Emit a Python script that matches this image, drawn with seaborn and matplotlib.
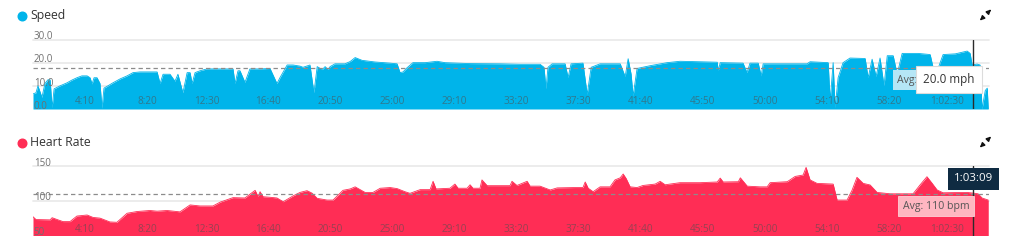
import numpy as np
import pandas as pd
import matplotlib
matplotlib.use("Agg")
import matplotlib.pyplot as plt
import seaborn as sns
from matplotlib.lines import Line2D
from matplotlib.patches import FancyArrowPatch

# ---------------- data ----------------
speed_t = [0, 12, 20, 36, 48, 60, 69, 77, 85, 109, 137, 157, 177, 197, 218, 230, 238, 246, 258, 270,
           278, 286, 302, 322, 351, 379, 403, 431, 471, 500, 512, 524, 552, 572, 584, 604, 621, 633,
           641, 653, 673, 701, 754, 806, 814, 826, 834, 854, 874, 915, 955, 983, 995, 1024, 1048,
           1076, 1088, 1116, 1132, 1145, 1165, 1177, 1189, 1197, 1217, 1257, 1278, 1298, 1326, 1378,
           1439, 1467, 1479, 1491, 1507, 1531, 1580, 1628, 1660, 1761, 1882, 1963, 2043, 2059, 2067,
           2075, 2092, 2144, 2156, 2168, 2216, 2233, 2249, 2285, 2366, 2386, 2398, 2410, 2418, 2434,
           2487, 2555, 2607, 2688, 2757, 2761, 2769, 2861, 2877, 2889, 2922, 2934, 2942, 3051, 3119,
           3131, 3204, 3212, 3224, 3232, 3244, 3264, 3292, 3353, 3365, 3381, 3397, 3413, 3429, 3442,
           3466, 3482, 3502, 3566, 3615, 3635, 3667, 3716, 3764, 3776, 3784, 3804, 3816, 3824, 3837,
           3845, 3849]
speed_v = [6.5, 7.0, 10.0, 5.0, 11.0, 12.6, 12.6, 0.5, 8.7, 10.0, 11.3, 12.5, 13.5, 14.3, 14.3, 13.5,
           10.8, 13.5, 13.5, 11.0, 0.3, 9.0, 10.0, 11.3, 13.0, 14.3, 15.7, 16.0, 16.0, 16.0, 11.0,
           15.0, 15.0, 12.0, 15.0, 7.0, 15.7, 15.7, 11.0, 15.7, 16.5, 17.3, 17.3, 17.3, 11.0, 16.5,
           16.5, 11.5, 17.3, 17.3, 17.5, 11.0, 13.5, 19.0, 19.0, 18.5, 18.0, 19.0, 7.0, 18.3, 17.0,
           18.3, 17.0, 18.3, 19.5, 19.5, 20.5, 22.2, 21.0, 20.3, 19.8, 19.5, 15.7, 16.0, 17.8, 20.0,
           20.0, 20.6, 20.0, 19.6, 19.5, 19.3, 19.3, 18.0, 8.7, 18.0, 19.5, 19.5, 13.6, 19.5, 19.8,
           6.3, 18.0, 19.5, 19.5, 14.0, 21.7, 15.0, 5.6, 17.5, 18.7, 20.0, 20.6, 20.4, 20.2, 16.5,
           20.0, 19.8, 15.7, 19.8, 19.8, 14.3, 19.5, 19.5, 19.5, 20.4, 20.0, 3.5, 20.0, 0.5, 13.5,
           20.0, 22.0, 21.8, 13.5, 21.5, 14.0, 22.0, 10.0, 23.0, 23.0, 15.0, 24.0, 24.0, 23.5, 14.0,
           23.5, 23.8, 25.0, 24.0, 19.0, 19.4, 19.0, 0.0, 8.0, 9.0, 0.0]

hr_t = [0, 12, 69, 77, 97, 121, 149, 177, 218, 242, 270, 310, 338, 379, 419, 471, 500, 540, 592, 633,
        673, 725, 754, 806, 854, 895, 907, 915, 927, 955, 983, 1008, 1048, 1076, 1104, 1124, 1145,
        1185, 1209, 1249, 1278, 1298, 1318, 1338, 1370, 1399, 1439, 1467, 1499, 1519, 1560, 1600,
        1612, 1624, 1680, 1700, 1713, 1749, 1761, 1773, 1801, 1809, 1830, 1922, 1930, 1950, 1991,
        2003, 2043, 2084, 2112, 2184, 2216, 2225, 2237, 2257, 2285, 2325, 2345, 2366, 2378, 2390,
        2406, 2434, 2458, 2507, 2527, 2547, 2607, 2688, 2757, 2769, 2781, 2842, 2850, 2878, 2930,
        2958, 2970, 3039, 3071, 3103, 3115, 3131, 3159, 3224, 3240, 3280, 3300, 3320, 3345, 3373,
        3401, 3454, 3546, 3574, 3602, 3623, 3643, 3667, 3764, 3788, 3808, 3824, 3849]
hr_v = [77, 73, 72.5, 75.6, 73, 70, 70, 78, 79.5, 76, 75, 69.5, 69, 82, 84.5, 86, 85, 86, 84, 94,
        92.5, 92.5, 98, 104.5, 104, 115, 106, 113, 105.8, 105, 104, 98.6, 107, 112, 114.5, 111,
        103.5, 101, 101, 115, 117, 120, 116, 112, 112, 118, 119, 117.5, 113, 110.7, 116, 116, 128,
        117, 118, 124, 118, 118, 123, 118, 118, 130, 121.7, 121.7, 128, 122, 128, 121, 121, 115.5,
        118.5, 119, 119, 127, 118, 113, 120, 120, 130, 133, 138.5, 132, 120, 119, 122, 124, 128,
        123, 126, 126, 127, 132.6, 127, 127.4, 133, 121, 120, 120, 126, 127.4, 135, 137, 148, 130,
        125, 124, 101, 101, 115, 133.7, 125, 122.7, 112, 110, 110, 122.7, 134.6, 125, 115.5, 111.5,
        112, 111, 110, 104, 101]

tick_secs = [250, 500, 750, 1000, 1250, 1500, 1750, 2000, 2250, 2500, 2750, 3000, 3250, 3500, 3750]
tick_labels = ["4:10", "8:20", "12:30", "16:40", "20:50", "25:00", "29:10", "33:20", "37:30",
               "41:40", "45:50", "50:00", "54:10", "58:20", "1:02:30"]

speed_yticks = [0, 10, 20, 30]
speed_ytick_labels = ["0.0", "10.0", "20.0", "30.0"]
hr_yticks = [50, 100, 150]
hr_ytick_labels = ["50", "100", "150"]

speed_avg = 17.6
hr_avg = 110
cursor_t = 3789
cursor_time_label = "1:03:09"
cursor_speed_label = "20.0 mph"
speed_avg_label = "Avg:   "
hr_avg_label = "Avg: 110 bpm"
x_end = 3852

SPEED_C = "#00b4ea"
HR_C = "#ff2d55"

# ---------------- figure ----------------
sns.set_theme(style="white")
plt.rcParams["font.family"] = ["Open Sans", "DejaVu Sans"]

W, H = 1020, 240
fig = plt.figure(figsize=(W / 100, H / 100), dpi=100)
fig.patch.set_facecolor("white")


def px_axes(left, top, right, bottom):
    return fig.add_axes([left / W, 1 - bottom / H, (right - left) / W, (bottom - top) / H])


ax1 = px_axes(33, 39.5, 989, 109)
ax2 = px_axes(33, 166, 989, 235.5)

speed_df = pd.DataFrame({"t": speed_t, "v": speed_v})
hr_df = pd.DataFrame({"t": hr_t, "v": hr_v})


def draw_panel(ax, df, color, ylo, yhi, yticks, ylabels, avg, xlab_off):
    ax.set_xlim(0, x_end)
    ax.set_ylim(ylo, yhi)
    ax.set_axis_off()
    for yv in yticks[1:]:
        ax.axhline(yv, color="#ebebeb", lw=1.3, zorder=0, clip_on=False)
    ax.fill_between(df["t"], df["v"], ylo, color=color, lw=0, zorder=1)
    sns.lineplot(data=df, x="t", y="v", ax=ax, color=color, lw=0.6, zorder=1.1, legend=False)
    ax.axhline(avg, color="#8c8c8c", lw=0.9, ls=(0, (3.5, 2.5)), zorder=3)
    for yv, lab in zip(yticks, ylabels):
        ax.annotate(lab, xy=(0, yv), xycoords=("axes fraction", "data"), xytext=(0.5, 2),
                    textcoords="offset points", ha="left", va="center", fontsize=7,
                    color="#6f6f6f", zorder=5, annotation_clip=False)
    for ts, lab in zip(tick_secs, tick_labels):
        ax.annotate(lab, xy=(ts, 0), xycoords=("data", "axes fraction"), xytext=(0, xlab_off),
                    textcoords="offset points", ha="right", va="center", fontsize=7.2,
                    color="#505050", alpha=0.6, zorder=5)
    ax.axvline(cursor_t, color="#2b2b2b", lw=1.0, zorder=4)


draw_panel(ax1, speed_df, SPEED_C, 0, 30, speed_yticks, speed_ytick_labels, speed_avg, 5.4)
draw_panel(ax2, hr_df, HR_C, 50, 150, hr_yticks, hr_ytick_labels, hr_avg, 4.0)

# avg label boxes
ax1.text(3482, 12.5, speed_avg_label, ha="left", va="center", fontsize=7.6, color="#555555",
         zorder=6, bbox=dict(boxstyle="square,pad=0.42", fc="#b5e6f6", ec="none"))
ax1.text(3691, 12.9, cursor_speed_label, ha="center", va="center", fontsize=8.4, color="#333333",
         zorder=7, bbox=dict(boxstyle="square,pad=0.6", fc="white", ec="#dcdcdc", lw=0.8))
ax2.text(3772, 92.4, hr_avg_label, ha="right", va="center", fontsize=7.6, color="#555555",
         zorder=6, bbox=dict(boxstyle="square,pad=0.42", fc="#ffb6c1", ec="#ffd0d7", lw=0.6))
ax2.text(cursor_t, 131.3, cursor_time_label, ha="center", va="center", fontsize=8.2,
         color="white", zorder=7, clip_on=False,
         bbox=dict(boxstyle="square,pad=0.5", fc="#0f2b42", ec="none"))


def fig_in(x, y):
    return (x / 100, (H - y) / 100)


# panel titles with coloured dots and expand icons
for ytop, label, col in [(16, "Speed", SPEED_C), (143, "Heart Rate", HR_C)]:
    fig.add_artist(Line2D([22 / W], [1 - ytop / H], marker="o", markersize=6.2, color=col,
                          transform=fig.transFigure, lw=0))
    fig.text(30.5 / W, 1 - ytop / H, label, ha="left", va="center", fontsize=8.8, color="#333333")
    cx, cy = 985.5, ytop - 1
    for dx, dy in [(5.5, -5.5), (-5.5, 5.5)]:
        fig.add_artist(FancyArrowPatch(fig_in(cx + dx * 0.4, cy + dy * 0.4),
                                       fig_in(cx + dx, cy + dy),
                                       transform=fig.dpi_scale_trans, arrowstyle="-|>",
                                       mutation_scale=6, lw=1.1, color="#111111"))

fig.savefig("out.png", dpi=100, facecolor="white")
